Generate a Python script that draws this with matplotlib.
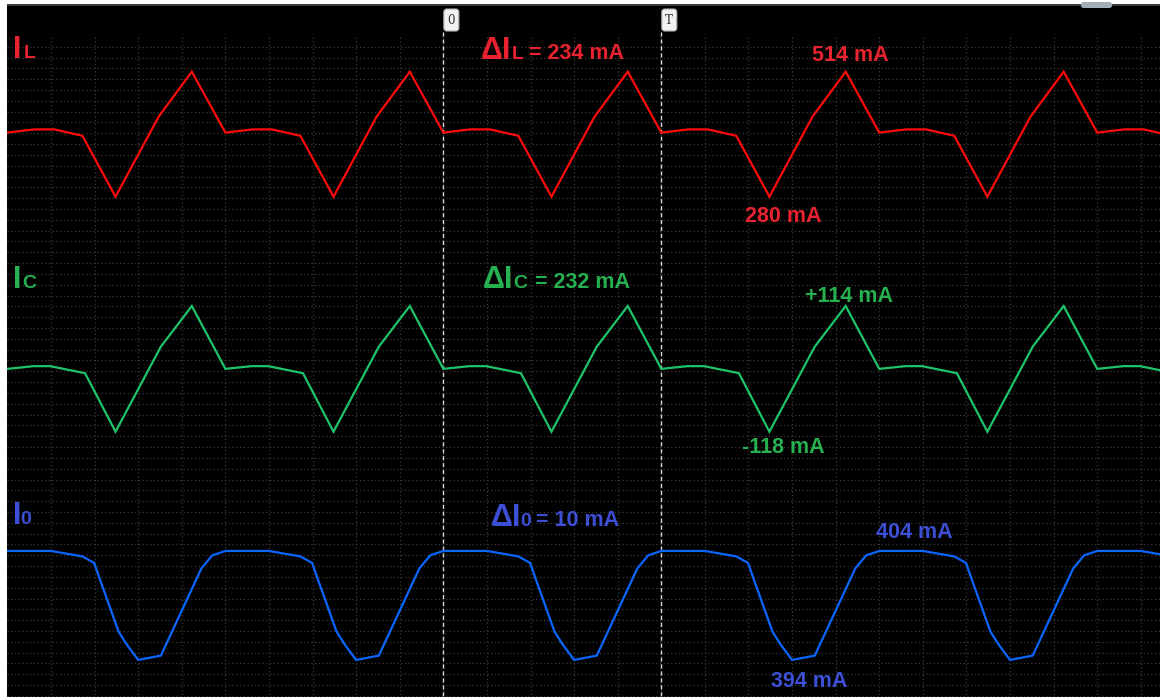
import matplotlib
matplotlib.use("Agg")
import matplotlib.pyplot as plt
import numpy as np
from matplotlib.patches import FancyBboxPatch, Rectangle

# ---------------- data (one period, time in grid divisions, current in mA) -------------
PERIOD = 5.0
N_PERIODS = range(-2, 4)

IL_t = [0.0, 0.62, 1.07, 1.72, 2.48, 3.47, 4.23, 5.0]
IL_mA = [400, 406, 406, 394, 280, 430, 514, 400]

IC_t = [0.0, 0.6, 0.98, 1.78, 2.48, 3.52, 4.23, 5.0]
IC_mA = [-2, 3, 3, -10, -118, 39, 114, -2]

IO_t = [0.0, 1.0, 1.72, 1.99, 2.13, 2.55, 2.74, 3.0, 3.52, 4.45, 4.7, 5.0]
IO_mA = [404.0, 404.0, 403.5, 402.9, 401.3, 396.6, 395.4, 394.0, 394.4, 402.4, 403.6, 404.0]

cursor_times = [0, 5]
cursor_labels = ["0", "T"]

# annotations
delta_L = "234 mA"
delta_C = "232 mA"
delta_0 = "10 mA"
IL_max, IL_min = "514 mA", "280 mA"
IC_max, IC_min = "+114 mA", "-118 mA"
IO_max, IO_min = "404 mA", "394 mA"


def tile(ts, vs):
    tt, vv = [], []
    for k in N_PERIODS:
        tt.extend(np.asarray(ts[:-1]) + k * PERIOD)
        vv.extend(vs[:-1])
    tt.append(ts[-1] + N_PERIODS[-1] * PERIOD)
    vv.append(vs[-1])
    return np.array(tt), np.array(vv)


# ---------------- figure ----------------
W, H = 1160, 697
fig = plt.figure(figsize=(W / 100, H / 100), dpi=100, facecolor="white")

L, R, T_, B = 7, 1160, 6, 697
rect = [L / W, 1 - B / H, (R - L) / W, (B - T_) / H]
XLIM = (-10.01, 16.44)

ax_bg = fig.add_axes(rect)
ax_bg.set_facecolor("#000000")
ax_bg.set_xlim(*XLIM)
ax_bg.set_ylim(B, T_)
for s in ax_bg.spines.values():
    s.set_visible(False)
ax_bg.set_xticks([])
ax_bg.set_yticks([])

grid_c = "#3a3a3a"
for t in range(-9, 17):
    ax_bg.vlines(t, 37, B, colors=grid_c, linestyles=(0, (1, 2)), lw=0.9)
rows = 46.7 + 10.82 * np.arange(61)
ax_bg.hlines(rows, XLIM[0], XLIM[1], colors=grid_c, linestyles=(0, (1, 2)), lw=0.9)

for t in cursor_times:
    ax_bg.vlines(t, 32, B, colors="#d8d8d8", linestyles=(0, (3, 2)), lw=1.0)

traces = [
    (IL_t, IL_mA, "#ff0a0a", (-656.6, 637.0)),
    (IC_t, IC_mA, "#1ec46a", (-607.7, 667.8)),
    (IO_t, IO_mA, "#0a66ff", (390.6, 454.0)),
]
for ts, vs, col, yl in traces:
    ax = fig.add_axes(rect)
    ax.patch.set_alpha(0)
    ax.set_xlim(*XLIM)
    ax.set_ylim(*yl)
    ax.set_axis_off()
    tt, vv = tile(ts, vs)
    ax.plot(tt, vv, color=col, lw=1.6, solid_joinstyle="miter")

# ---------------- overlay in pixel coordinates ----------------
ax_px = fig.add_axes([0, 0, 1, 1])
ax_px.set_xlim(0, W)
ax_px.set_ylim(H, 0)
ax_px.set_axis_off()
ax_px.patch.set_alpha(0)

ax_px.add_patch(Rectangle((7, 4), W - 7, 2.3, fc="#3c3c3c", ec="none"))
ax_px.add_patch(FancyBboxPatch((1081, 2), 31, 6, boxstyle="round,pad=0,rounding_size=2.5",
                               fc="#a3adb8", ec="none"))

# cursor markers
for t, lab in zip(cursor_times, cursor_labels):
    xpix = L + (t - XLIM[0]) / (XLIM[1] - XLIM[0]) * (R - L)
    ax_px.add_patch(FancyBboxPatch((xpix + 0.5, 9), 15, 22, boxstyle="round,pad=0,rounding_size=3",
                                   fc="#f2f2f2", ec="#b0b0b0", lw=0.8))
    ax_px.text(xpix + 8, 20.5, lab, fontsize=8.5, color="#333333", ha="center", va="center",
               family="DejaVu Serif")

FAM = "Liberation Sans"
RED, GREEN, BLUE = "#e8222f", "#27b04f", "#3d4fd4"


def txt(x, y, s, size, color):
    ax_px.text(x, y, s, fontsize=size, color=color, fontweight="bold", ha="left",
               va="baseline", family=FAM)


BIG, SUB, VAL = 22, 14, 15.5

# channel labels
txt(13, 58.5, "I", BIG, RED); txt(23.5, 58.5, "L", SUB, RED)
txt(13, 288.5, "I", BIG, GREEN); txt(22.5, 288.5, "C", SUB, GREEN)
txt(13, 524.5, "I", BIG, BLUE); txt(20.5, 524.5, "0", SUB, BLUE)

# delta labels
txt(480.5, 59, "Δ", BIG, RED); txt(502, 59, "I", BIG, RED); txt(511.5, 59, "L", SUB, RED)
txt(529, 59, "= " + delta_L, VAL, RED)

txt(483, 288.5, "Δ", BIG, GREEN); txt(504.5, 288.5, "I", BIG, GREEN); txt(513, 288.5, "C", SUB, GREEN)
txt(535, 288.5, "= " + delta_C, VAL, GREEN)

txt(490.5, 525.5, "Δ", BIG, BLUE); txt(512, 525.5, "I", BIG, BLUE); txt(520, 525.5, "0", SUB, BLUE)
txt(536, 525.5, "= " + delta_0, VAL, BLUE)

# peak / valley values
txt(812, 61, IL_max, VAL, RED)
txt(745, 221.5, IL_min, VAL, RED)
txt(805, 302, IC_max, VAL, GREEN)
txt(742, 453, IC_min, VAL, GREEN)
txt(876, 537.7, IO_max, VAL, BLUE)
txt(771, 686.7, IO_min, VAL, BLUE)

fig.savefig("out.png", dpi=100, facecolor="white")
